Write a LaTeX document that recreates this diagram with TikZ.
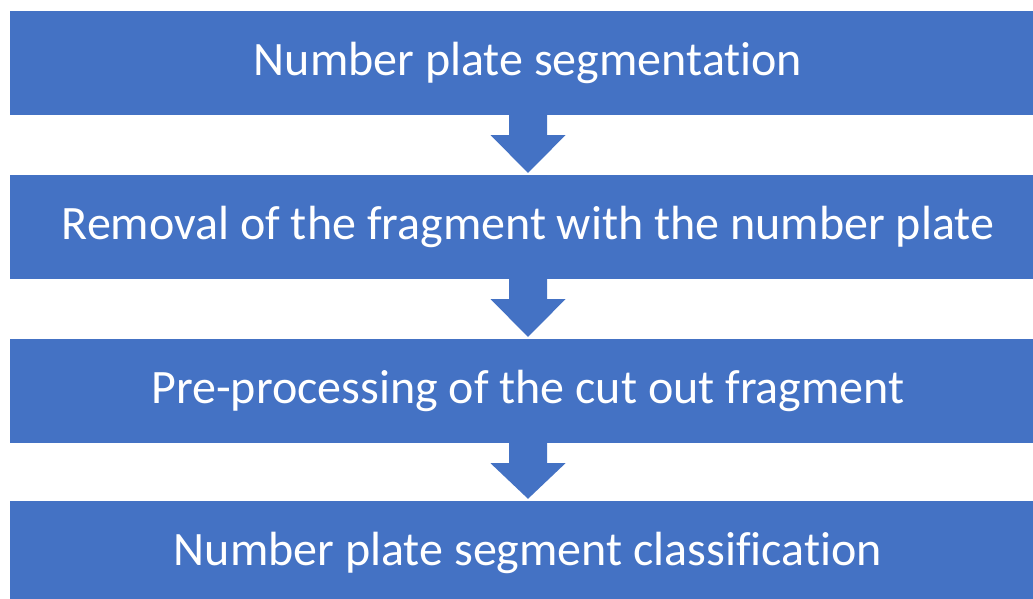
\documentclass[tikz,border=0pt]{standalone}
\usepackage{fontspec}
\setmainfont[Ligatures=NoCommon]{Carlito}
\usetikzlibrary{calc}
\definecolor{boxblue}{HTML}{4472C4}
\tikzset{
  stepbox/.style={fill=boxblue, draw=none, text=white, minimum width=1036pt, minimum height=104pt, inner sep=0pt, font=\fontsize{48}{56}\selectfont},
  blockarrow/.style={fill=boxblue, draw=none}
}
\begin{document}
\begin{tikzpicture}[x=1pt,y=-1pt]
\clip (0,0) rectangle (1033,598);
\fill[white] (0,0) rectangle (1033,598);
\node[stepbox] (b1) at (528,63) {Number plate segmentation};
\node[stepbox] (b2) at (528,227) {Removal of the fragment with the number plate};
\node[stepbox] (b3) at (528,391) {Pre-processing of the cut out fragment};
\node[stepbox] (b4) at (528,553) {Number plate segment classification};
\foreach \a/\b in {b1/b2,b2/b3,b3/b4}{
  \fill[blockarrow] ($(\a.south)+(-19,0)$) -- ($(\a.south)+(-19,20)$) -- ($(\a.south)+(-37.5,20)$)
     -- ($(\b.north)+(0,-2)$) -- ($(\a.south)+(37.5,20)$) -- ($(\a.south)+(19,20)$) -- ($(\a.south)+(19,0)$) -- cycle;
}
\end{tikzpicture}
\end{document}
